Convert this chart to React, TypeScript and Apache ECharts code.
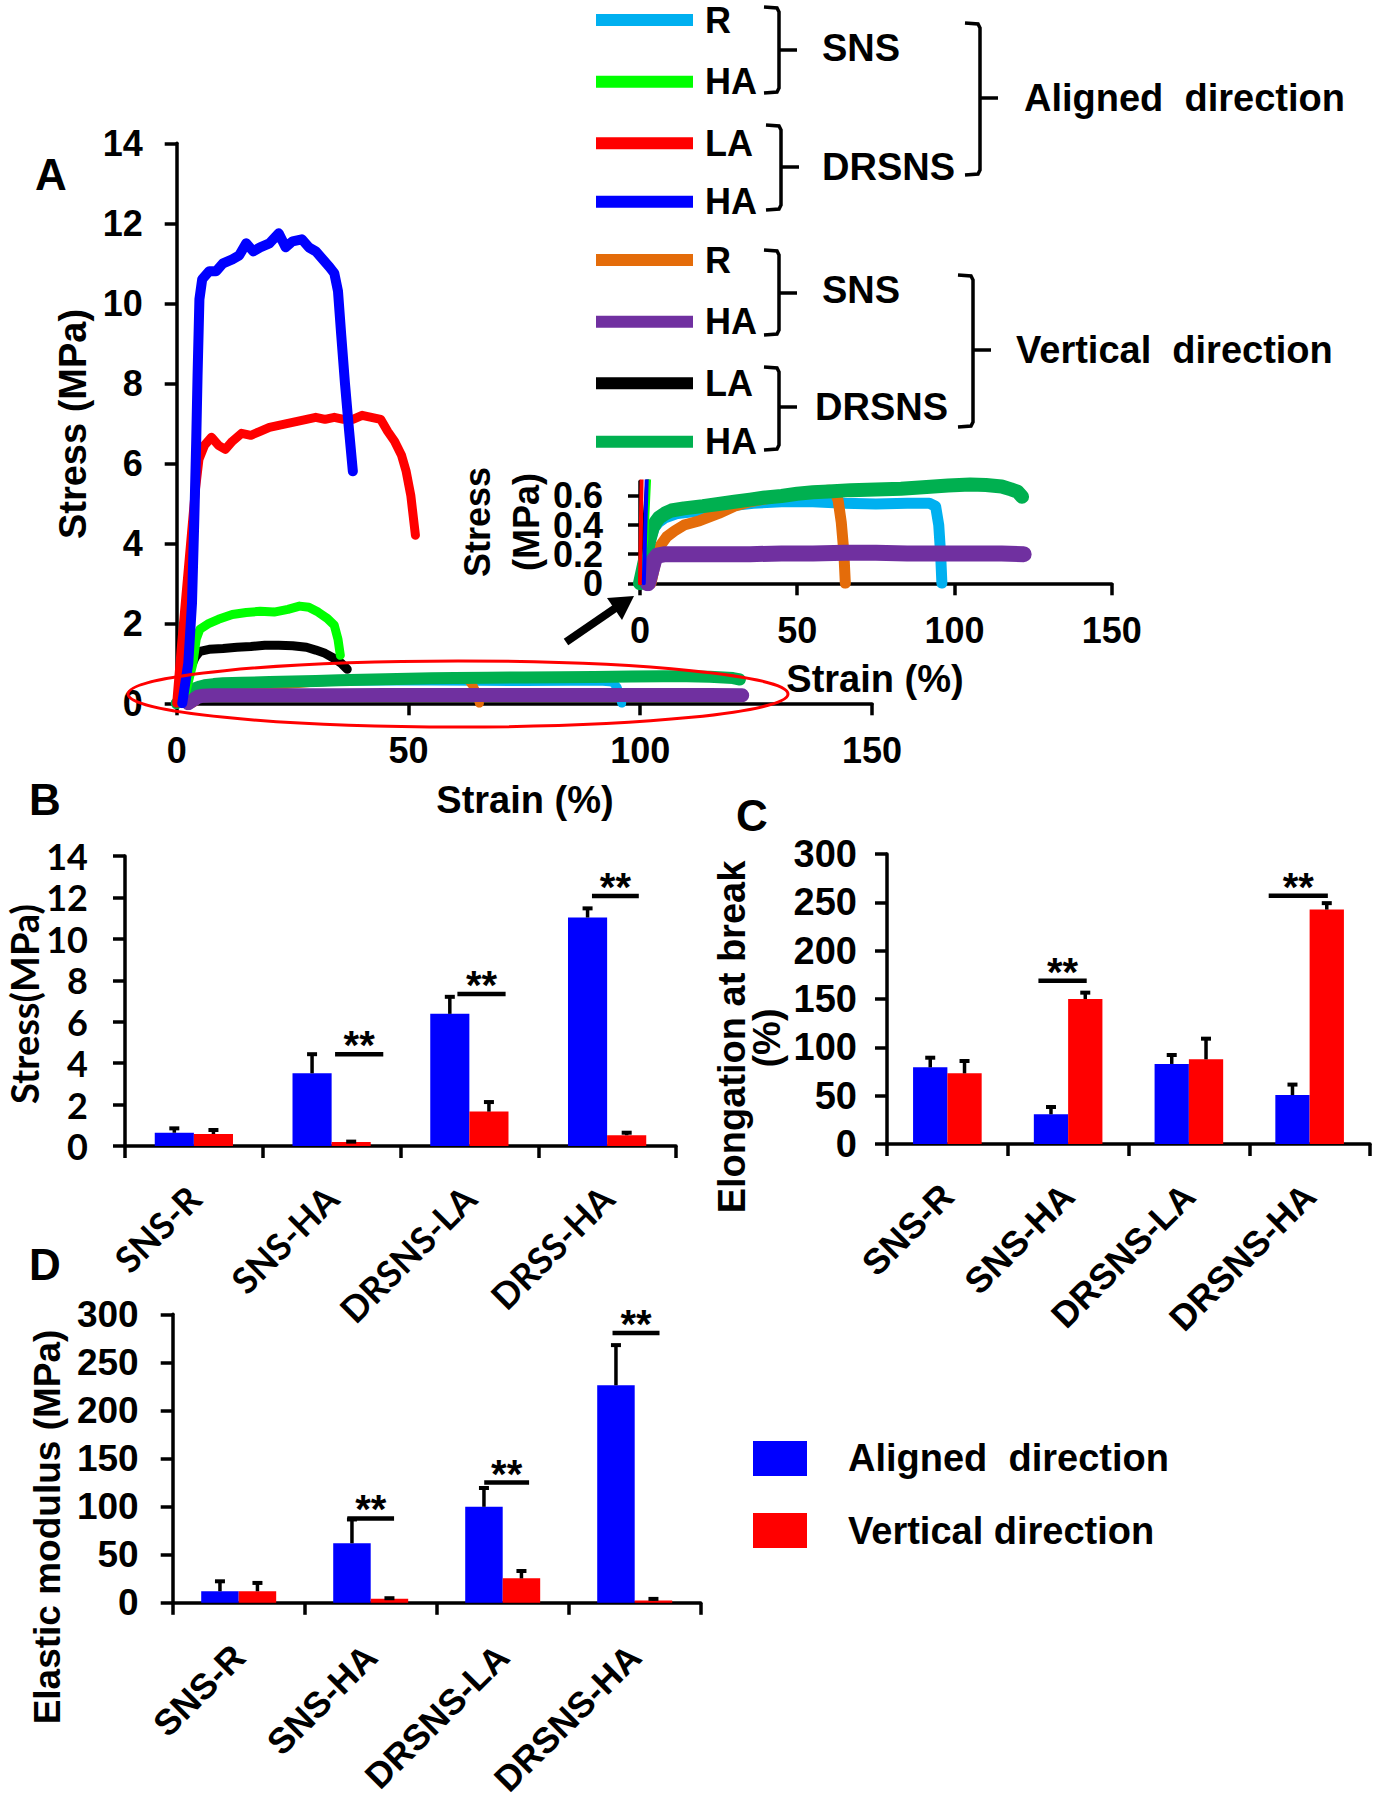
import React, { useEffect, useRef } from 'react';
import * as echarts from 'echarts';

const ARIAL = '"Liberation Sans", Arial, sans-serif';
const CALIBRI = 'Lato, "Liberation Sans", sans-serif';

// ---------- Panel A: stress-strain curves [strain %, stress MPa] ----------
const SNS_R_ALIGNED = [[0,0],[1.5,0.08],[3,0.28],[4.5,0.38],[6,0.42],[8,0.45],[12,0.48],[20,0.5],[28,0.53],[36,0.55],[45,0.56],[55,0.56],[65,0.55],[75,0.545],[85,0.55],[92,0.55],[94,0.53],[95,0.4],[95.6,0.2],[96,0]];
const SNS_R_VERTICAL = [[3.5,0],[4.5,0.1],[5.5,0.19],[6.5,0.26],[8.5,0.32],[11,0.36],[14,0.4],[19,0.43],[25,0.48],[30,0.53],[35,0.56],[40,0.58],[45,0.6],[50,0.615],[55,0.63],[60,0.64],[62,0.63],[63,0.57],[64,0.42],[64.8,0.22],[65.3,0]];
const DRSNS_HA_VERTICAL = [[0,0],[1,0.1],[2,0.2],[3,0.3],[4,0.38],[5,0.42],[6,0.45],[8,0.48],[10,0.5],[14,0.515],[20,0.53],[25,0.545],[30,0.56],[35,0.575],[40,0.59],[45,0.6],[50,0.615],[55,0.625],[60,0.63],[67,0.64],[75,0.645],[83,0.65],[90,0.66],[98,0.672],[105,0.678],[110,0.675],[115,0.665],[118,0.645],[120,0.63],[121.5,0.595]];
const SNS_HA_VERTICAL = [[2.5,0],[3.5,0.08],[4.5,0.16],[5.5,0.19],[8,0.2],[15,0.2],[25,0.2],[35,0.2],[45,0.205],[55,0.205],[65,0.21],[75,0.21],[85,0.205],[95,0.205],[105,0.205],[115,0.205],[122,0.2]];
const DRSNS_LA_VERTICAL = [[0,0],[1,0.3],[2,0.6],[3,0.9],[4,1.15],[5,1.3],[7,1.35],[10,1.37],[13,1.4],[16,1.42],[19,1.45],[22,1.45],[25,1.44],[28,1.4],[30,1.33],[32,1.25],[34,1.12],[35.5,1.0],[36.8,0.85]];
const SNS_HA_ALIGNED = [[0,0],[2,0.3],[3.5,1.0],[4.2,1.6],[5,1.85],[7,2.0],[9,2.1],[12,2.22],[15,2.27],[18,2.3],[21,2.28],[24,2.35],[26.5,2.43],[28.5,2.4],[30.5,2.28],[32.5,2.12],[34,1.95],[34.8,1.6],[35.3,1.2]];
const DRSNS_LA_ALIGNED = [[0,0],[1,1.4],[2,2.7],[3,4.0],[4,5.3],[4.8,6.1],[6,6.45],[7.5,6.65],[9,6.45],[10.5,6.35],[12,6.55],[14,6.75],[16,6.7],[18,6.8],[20,6.9],[22,6.95],[24,7.0],[26,7.05],[28,7.1],[30,7.15],[32,7.1],[34,7.15],[36,7.1],[38,7.1],[40,7.2],[42,7.15],[44,7.1],[45.5,6.8],[47,6.55],[48.5,6.2],[49.5,5.8],[50.5,5.2],[51.5,4.2]];
const DRSNS_HA_ALIGNED = [[1.2,0],[2.5,1],[3.3,2.5],[3.8,4.6],[4.2,6.5],[4.5,8.2],[4.9,10.1],[5.5,10.6],[7,10.8],[8.5,10.8],[10,11.0],[12,11.1],[13.5,11.2],[15,11.5],[16.5,11.3],[18,11.4],[20,11.5],[22,11.75],[23.5,11.4],[25,11.55],[27,11.6],[28.5,11.4],[30,11.3],[31.5,11.1],[33,10.9],[34,10.75],[34.8,10.3],[35.5,9.2],[36.3,8.0],[37.2,6.8],[38,5.8]];

// inset y-axis tick values
const INSET_TICKS = [0, 0.2, 0.4, 0.6];

// ---------- Bar panels ----------
const CATS_B = ['SNS-R', 'SNS-HA', 'DRSNS-LA', 'DRSS-HA'];
const CATS_CD = ['SNS-R', 'SNS-HA', 'DRSNS-LA', 'DRSNS-HA'];

const B_ALIGNED = [0.64, 3.51, 6.38, 11.03];
const B_ALIGNED_ERR = [0.26, 0.97, 0.87, 0.49];
const B_VERTICAL = [0.58, 0.19, 1.66, 0.52];
const B_VERTICAL_ERR = [0.24, 0.07, 0.51, 0.17];

const C_ALIGNED = [79.3, 30.7, 82.8, 50.6];
const C_ALIGNED_ERR = [11.0, 8.6, 10.3, 11.9];
const C_VERTICAL = [73.1, 150.0, 87.6, 242.5];
const C_VERTICAL_ERR = [13.8, 7.6, 22.4, 7.7];

const D_ALIGNED = [12.0, 61.9, 99.8, 226.2];
const D_ALIGNED_ERR = [11.4, 25.8, 20.6, 42.8];
const D_VERTICAL = [12.0, 4.1, 25.4, 2.5];
const D_VERTICAL_ERR = [9.7, 1.7, 8.7, 2.6];

// significance markers: category index and level (data units)
const SIG_B_CAT = [1, 2, 3];
const SIG_B_LEVEL = [4.43, 7.34, 12.07];
const SIG_C_CAT = [1, 3];
const SIG_C_LEVEL = [169, 256.8];
const SIG_D_CAT = [1, 2, 3];
const SIG_D_LEVEL = [87.7, 125, 280.6];

// layout of significance bars (fraction of band): centre offset, width
const SIG_B_LAYOUT = [[0.2, 0.35], [0.088, 0.35], [0.06, 0.34]];
const SIG_C_LAYOUT = [[-0.046, 0.4], [-0.094, 0.49]];
const SIG_D_LAYOUT = [[0.0, 0.354], [0.03, 0.34], [0.01, 0.356]];

const BAR_FRAC = 0.284;

const COLORS = {
  lightBlue: '#00B0F0',
  brightGreen: '#00FF00',
  red: '#FF0000',
  blue: '#0000FF',
  orange: '#E46C0A',
  purple: '#7030A0',
  black: '#000000',
  green: '#00B050',
};

function errData(means: number[], errs: number[], side: number) {
  return means.map((m, i) => [i, m, errs[i], side]);
}

function errRender(params: any, api: any) {
  const c = api.value(0);
  const v = api.value(1);
  const e = api.value(2);
  const side = api.value(3);
  const band = api.size([1, 0])[0];
  const bw = band * BAR_FRAC;
  const cx = api.coord([c, 0])[0] + (side * bw) / 2;
  const y0 = api.coord([c, v])[1];
  const y1 = api.coord([c, v + e])[1];
  return {
    type: 'group',
    children: [
      { type: 'line', shape: { x1: cx, y1: y0, x2: cx, y2: y1 }, style: { stroke: '#000', lineWidth: 3.5 } },
      { type: 'line', shape: { x1: cx - 5, y1: y1 + 1, x2: cx + 5, y2: y1 + 1 }, style: { stroke: '#000', lineWidth: 4 } },
    ],
  };
}

function sigRender(layout: number[][]) {
  return (params: any, api: any) => {
    const c = api.value(0);
    const lvl = api.value(1);
    const band = api.size([1, 0])[0];
    const [dx, w] = layout[params.dataIndex];
    const center = api.coord([c, lvl]);
    const cx = center[0] + dx * band;
    const y = center[1];
    return {
      type: 'group',
      children: [
        { type: 'line', shape: { x1: cx - (w * band) / 2, y1: y, x2: cx + (w * band) / 2, y2: y }, style: { stroke: '#000', lineWidth: 4.5 } },
        {
          type: 'text',
          style: { text: '**', x: cx, y: y - 9, align: 'center', verticalAlign: 'middle', fontSize: 40, fontWeight: 'bold', fontFamily: ARIAL, fill: '#000' },
        },
      ],
    };
  };
}

// inset y tick labels (drawn at the axis so that all overlapping labels stay visible, as in the reference)
function insetLabelRender(params: any, api: any) {
  const v = api.value(1);
  const pt = api.coord([0, v]);
  return {
    type: 'text',
    style: {
      text: v === 0 ? '0' : v.toFixed(1),
      x: pt[0] - 37,
      y: pt[1],
      align: 'right',
      verticalAlign: 'middle',
      fontSize: 36,
      fontWeight: 'bold',
      fontFamily: ARIAL,
      fill: '#000',
    },
  };
}

const axisLine = { show: true, onZero: false, lineStyle: { color: '#000', width: 3.5 } };
const axisTick = { show: true, inside: false, length: 12, lineStyle: { color: '#000', width: 3.5 } };

function valueAxis(gridIndex: number, min: number, max: number, interval: number, fontSize: number, margin: number, family: string, extra: any = {}) {
  return {
    type: 'value',
    gridIndex,
    min,
    max,
    interval,
    axisLine,
    axisTick: { ...axisTick, ...(extra.axisTick || {}) },
    splitLine: { show: false },
    axisLabel: { color: '#000', fontSize, fontWeight: 'bold', fontFamily: family, margin, ...(extra.axisLabel || {}) },
  };
}

function catAxis(gridIndex: number, data: string[], fontSize: number, margin: number, family: string) {
  return {
    type: 'category',
    gridIndex,
    data,
    axisLine,
    axisTick: { ...axisTick, alignWithLabel: false },
    axisLabel: { color: '#000', fontSize, fontWeight: 'bold', fontFamily: family, margin, rotate: 45, interval: 0 },
  };
}

function curve(name: string, data: number[][], color: string, width: number, axis: number) {
  return {
    type: 'line',
    name,
    xAxisIndex: axis,
    yAxisIndex: axis,
    data,
    showSymbol: false,
    symbol: 'none',
    clip: true,
    lineStyle: { color, width, cap: 'round', join: 'round' },
    z: 3,
  };
}

function curveSet(axis: number, inset: boolean) {
  const wHigh = inset ? 4 : 9;
  return [
    curve('SNS-R aligned', SNS_R_ALIGNED, COLORS.lightBlue, inset ? 11 : 9, axis),
    curve('SNS-R vertical', SNS_R_VERTICAL, COLORS.orange, inset ? 11 : 9, axis),
    curve('DRSNS-HA vertical', DRSNS_HA_VERTICAL, COLORS.green, inset ? 14 : 12, axis),
    curve('SNS-HA vertical', SNS_HA_VERTICAL, COLORS.purple, inset ? 16 : 14, axis),
    curve('DRSNS-LA vertical', DRSNS_LA_VERTICAL, COLORS.black, wHigh, axis),
    curve('SNS-HA aligned', SNS_HA_ALIGNED, COLORS.brightGreen, wHigh, axis),
    curve('DRSNS-LA aligned', DRSNS_LA_ALIGNED, COLORS.red, wHigh, axis),
    curve('DRSNS-HA aligned', DRSNS_HA_ALIGNED, COLORS.blue, inset ? wHigh : 10, axis),
  ];
}

function txt(text: string, x: number, y: number, fontSize: number, opts: any = {}) {
  return {
    type: 'text',
    x,
    y,
    rotation: opts.rotation || 0,
    z: 10,
    style: {
      text,
      fontSize,
      fontWeight: 'bold',
      fontFamily: opts.family || ARIAL,
      fill: '#000',
      align: opts.align || 'left',
      verticalAlign: 'middle',
    },
  };
}

function bracket(x: number, top: number, bottom: number, hook: number, mid: number, nub: number) {
  return [
    { type: 'polyline', z: 10, shape: { points: [[x - hook, top], [x - 2, top + 1], [x, top + 5], [x, bottom - 5], [x - 2, bottom - 1], [x - hook, bottom]] }, style: { stroke: '#000', lineWidth: 3.5, fill: 'none' } },
    { type: 'line', z: 10, shape: { x1: x, y1: mid, x2: x + nub, y2: mid }, style: { stroke: '#000', lineWidth: 3.5 } },
  ];
}

const LEGEND_ROWS: [string, string, number][] = [
  ['R', COLORS.lightBlue, 20],
  ['HA', COLORS.brightGreen, 81.7],
  ['LA', COLORS.red, 143.3],
  ['HA', COLORS.blue, 201.7],
  ['R', COLORS.orange, 260],
  ['HA', COLORS.purple, 321.7],
  ['LA', COLORS.black, 383.3],
  ['HA', COLORS.green, 441.7],
];

function buildOption() {
  const graphics: any[] = [];
  // top legend
  LEGEND_ROWS.forEach(([label, color, y]) => {
    graphics.push({ type: 'rect', z: 10, shape: { x: 596, y: y - 6, width: 97, height: 12 }, style: { fill: color } });
    graphics.push(txt(label, 705, y, 36));
  });
  graphics.push(...bracket(779, 7, 93, 15, 50, 18));
  graphics.push(...bracket(781, 125, 210, 15, 167, 18));
  graphics.push(...bracket(980, 23, 175, 15, 98, 18));
  graphics.push(...bracket(779, 250, 335, 15, 293, 18));
  graphics.push(...bracket(779, 367, 450, 15, 407, 18));
  graphics.push(...bracket(973, 275, 427, 15, 350, 18));
  graphics.push(txt('SNS', 822, 48, 38));
  graphics.push(txt('DRSNS', 822, 167, 38));
  graphics.push(txt('Aligned  direction', 1024, 98, 38));
  graphics.push(txt('SNS', 822, 290, 38));
  graphics.push(txt('DRSNS', 815, 407, 38));
  graphics.push(txt('Vertical  direction', 1016, 350, 38));

  // panel letters
  graphics.push(txt('A', 51, 174, 44, { align: 'center' }));
  graphics.push(txt('B', 45, 799, 44, { align: 'center' }));
  graphics.push(txt('C', 752, 815, 44, { align: 'center' }));
  graphics.push(txt('D', 45, 1264, 44, { align: 'center' }));

  // axis names
  const R = Math.PI / 2;
  graphics.push(txt('Stress (MPa)', 73, 424, 38, { rotation: R, align: 'center' }));
  graphics.push(txt('Strain (%)', 525, 800, 38, { align: 'center' }));
  graphics.push(txt('Stress', 477, 522, 36, { rotation: R, align: 'center' }));
  graphics.push(txt('(MPa)', 526, 522, 36, { rotation: R, align: 'center' }));
  graphics.push(txt('Strain (%)', 875, 679, 38, { align: 'center' }));
  graphics.push(txt('Stress(MPa)', 24, 1004, 38, { rotation: R, align: 'center', family: CALIBRI }));
  graphics.push(txt('Elongation at break', 732, 1037, 38, { rotation: R, align: 'center' }));
  graphics.push(txt('(%)', 767, 1038, 38, { rotation: R, align: 'center' }));
  graphics.push(txt('Elastic modulus (MPa)', 47, 1527, 37, { rotation: R, align: 'center' }));

  // red ellipse highlighting low-stress curves
  graphics.push({ type: 'ellipse', z: 12, shape: { cx: 458, cy: 694, rx: 330, ry: 33 }, style: { fill: 'none', stroke: '#FF0000', lineWidth: 3 } });

  // arrow pointing to inset origin
  graphics.push({ type: 'line', z: 12, shape: { x1: 566, y1: 642, x2: 617, y2: 607 }, style: { stroke: '#000', lineWidth: 8 } });
  graphics.push({ type: 'polygon', z: 12, shape: { points: [[634, 596], [622, 620], [607, 598]] }, style: { fill: '#000' } });

  // bottom legend
  graphics.push({ type: 'rect', z: 10, shape: { x: 753, y: 1441, width: 54, height: 35 }, style: { fill: COLORS.blue } });
  graphics.push({ type: 'rect', z: 10, shape: { x: 753, y: 1513, width: 54, height: 35 }, style: { fill: COLORS.red } });
  graphics.push(txt('Aligned  direction', 848, 1458, 38));
  graphics.push(txt('Vertical direction', 848, 1531, 38));

  return {
    animation: false,
    backgroundColor: '#fff',
    grid: [
      { left: 176.7, top: 143.3, width: 695.3, height: 560 },
      { left: 640, top: 481.4, width: 471.7, height: 101.9 },
      { left: 125, top: 856, width: 551, height: 290 },
      { left: 887, top: 854, width: 483, height: 290 },
      { left: 172.7, top: 1314.3, width: 528, height: 290.7 },
    ],
    xAxis: [
      valueAxis(0, 0, 150, 50, 36, 29, ARIAL),
      valueAxis(1, 0, 150, 50, 36, 29, ARIAL),
      catAxis(2, CATS_B, 36, 46, CALIBRI),
      catAxis(3, CATS_CD, 36, 46, ARIAL),
      catAxis(4, CATS_CD, 36, 48, ARIAL),
    ],
    yAxis: [
      valueAxis(0, 0, 14, 2, 36, 34, ARIAL),
      valueAxis(1, 0, 0.7, 0.2, 36, 37, ARIAL, {
        axisTick: { customValues: INSET_TICKS },
        axisLabel: { show: false },
      }),
      valueAxis(2, 0, 14, 2, 36, 37, CALIBRI),
      valueAxis(3, 0, 300, 50, 38, 30, ARIAL),
      valueAxis(4, 0, 300, 50, 37, 34, ARIAL),
    ],
    series: [
      ...curveSet(0, false),
      ...curveSet(1, true),
      { type: 'custom', xAxisIndex: 1, yAxisIndex: 1, silent: true, clip: false, data: INSET_TICKS.map((v) => [0, v]), renderItem: insetLabelRender, z: 6 },

      { type: 'bar', xAxisIndex: 2, yAxisIndex: 2, data: B_ALIGNED, barWidth: '28.4%', barGap: '0%', itemStyle: { color: COLORS.blue } },
      { type: 'bar', xAxisIndex: 2, yAxisIndex: 2, data: B_VERTICAL, barWidth: '28.4%', barGap: '0%', itemStyle: { color: COLORS.red } },
      { type: 'custom', xAxisIndex: 2, yAxisIndex: 2, data: [...errData(B_ALIGNED, B_ALIGNED_ERR, -1), ...errData(B_VERTICAL, B_VERTICAL_ERR, 1)], renderItem: errRender, z: 5 },
      { type: 'custom', xAxisIndex: 2, yAxisIndex: 2, data: SIG_B_CAT.map((c, i) => [c, SIG_B_LEVEL[i]]), renderItem: sigRender(SIG_B_LAYOUT), z: 5 },

      { type: 'bar', xAxisIndex: 3, yAxisIndex: 3, data: C_ALIGNED, barWidth: '28.4%', barGap: '0%', itemStyle: { color: COLORS.blue } },
      { type: 'bar', xAxisIndex: 3, yAxisIndex: 3, data: C_VERTICAL, barWidth: '28.4%', barGap: '0%', itemStyle: { color: COLORS.red } },
      { type: 'custom', xAxisIndex: 3, yAxisIndex: 3, data: [...errData(C_ALIGNED, C_ALIGNED_ERR, -1), ...errData(C_VERTICAL, C_VERTICAL_ERR, 1)], renderItem: errRender, z: 5 },
      { type: 'custom', xAxisIndex: 3, yAxisIndex: 3, data: SIG_C_CAT.map((c, i) => [c, SIG_C_LEVEL[i]]), renderItem: sigRender(SIG_C_LAYOUT), z: 5 },

      { type: 'bar', xAxisIndex: 4, yAxisIndex: 4, data: D_ALIGNED, barWidth: '28.4%', barGap: '0%', itemStyle: { color: COLORS.blue } },
      { type: 'bar', xAxisIndex: 4, yAxisIndex: 4, data: D_VERTICAL, barWidth: '28.4%', barGap: '0%', itemStyle: { color: COLORS.red } },
      { type: 'custom', xAxisIndex: 4, yAxisIndex: 4, data: [...errData(D_ALIGNED, D_ALIGNED_ERR, -1), ...errData(D_VERTICAL, D_VERTICAL_ERR, 1)], renderItem: errRender, z: 5 },
      { type: 'custom', xAxisIndex: 4, yAxisIndex: 4, data: SIG_D_CAT.map((c, i) => [c, SIG_D_LEVEL[i]]), renderItem: sigRender(SIG_D_LAYOUT), z: 5 },
    ],
    graphic: graphics,
  };
}

export default function App() {
  const ref = useRef<HTMLDivElement>(null);
  useEffect(() => {
    if (!ref.current) return;
    const chart = echarts.init(ref.current, null, { renderer: 'svg' });
    chart.setOption(buildOption() as any);
    return () => chart.dispose();
  }, []);
  return (
    <div
      ref={ref}
      style={{ position: 'absolute', left: 0, top: 0, width: 1382, height: 1800, background: '#fff' }}
    />
  );
}
